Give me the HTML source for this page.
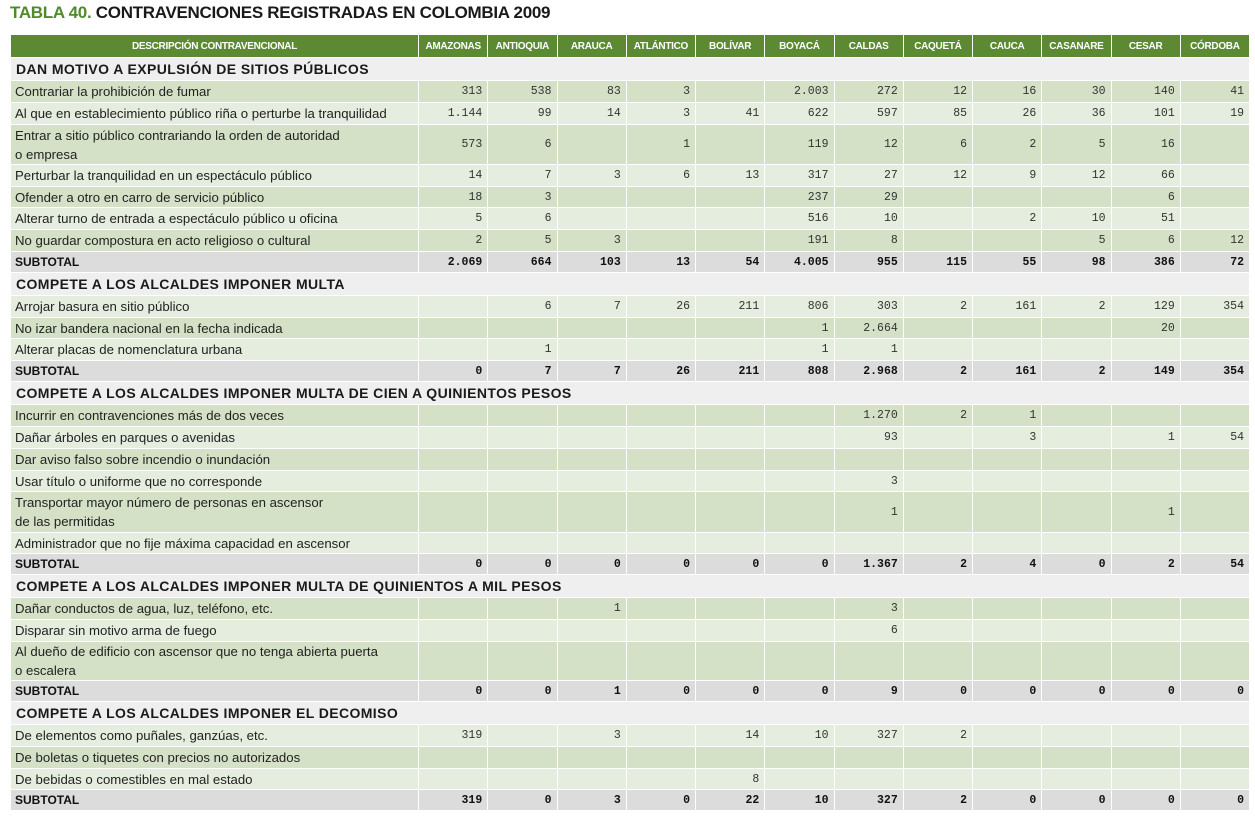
<!DOCTYPE html>
<html><head><meta charset="utf-8">
<style>
body{margin:0;background:#fff;width:1255px;height:817px;overflow:hidden;font-family:"Liberation Sans",sans-serif;}
#title{position:absolute;left:10px;top:3px;font-size:17px;font-weight:bold;color:#1a1a1a;letter-spacing:-0.3px;}
#title span{color:#4f8a2b;}
table{position:absolute;left:10px;top:34px;border-collapse:collapse;table-layout:fixed;width:1239px;}
td,th{border:1px solid #fff;padding:0 4px;overflow:hidden;white-space:nowrap;}
th{background:#5b8a33;color:#fff;font-family:"Liberation Sans Narrow","Liberation Sans",sans-serif;font-size:10px;font-weight:bold;height:22px;text-align:center;letter-spacing:-0.3px;}
td{font-size:13.2px;color:#222;}
td.n{text-align:right;font-family:"Liberation Mono",monospace;font-size:11.5px;padding-right:5px;color:#333;}
tr.sec td{background:#efefef;font-size:14px;font-weight:bold;letter-spacing:0.4px;padding-left:5px;color:#1a1a1a;}
tr.sub td{background:#dcdcdc;font-weight:bold;font-size:12px;color:#111;}
tr.sub td.n{font-size:11.5px;}
tr.d td{background:#d4e1c6;}
tr.l td{background:#e5edde;}
td.two{white-space:normal;line-height:19px;}
</style></head><body>
<div id="title"><span>TABLA 40.</span> CONTRAVENCIONES REGISTRADAS EN COLOMBIA 2009</div>
<table id="t">
<colgroup><col style="width:408px"></colgroup>
</table>
<script>
const columns=["AMAZONAS","ANTIOQUIA","ARAUCA","ATLÁNTICO","BOLÍVAR","BOYACÁ","CALDAS","CAQUETÁ","CAUCA","CASANARE","CESAR","CÓRDOBA"];
const sections=[
 {title:"DAN MOTIVO A EXPULSIÓN DE SITIOS PÚBLICOS",rows:[
  ["Contrariar la prohibición de fumar",["313","538","83","3","","2.003","272","12","16","30","140","41"],22],
  ["Al que en establecimiento público riña o perturbe la tranquilidad",["1.144","99","14","3","41","622","597","85","26","36","101","19"],22],
  ["Entrar a sitio público contrariando la orden de autoridad<br>o empresa",["573","6","","1","","119","12","6","2","5","16",""],40],
  ["Perturbar la tranquilidad en un espectáculo público",["14","7","3","6","13","317","27","12","9","12","66",""],22],
  ["Ofender a otro en carro de servicio público",["18","3","","","","237","29","","","","6",""],21],
  ["Alterar turno de entrada a espectáculo público u oficina",["5","6","","","","516","10","","2","10","51",""],22],
  ["No guardar compostura en acto religioso o cultural",["2","5","3","","","191","8","","","5","6","12"],22]],
  subtotal:["2.069","664","103","13","54","4.005","955","115","55","98","386","72"]},
 {title:"COMPETE A LOS ALCALDES IMPONER MULTA",rows:[
  ["Arrojar basura en sitio público",["","6","7","26","211","806","303","2","161","2","129","354"],22],
  ["No izar bandera nacional en la fecha indicada",["","","","","","1","2.664","","","","20",""],21],
  ["Alterar placas de nomenclatura urbana",["","1","","","","1","1","","","","",""],22]],
  subtotal:["0","7","7","26","211","808","2.968","2","161","2","149","354"]},
 {title:"COMPETE A LOS ALCALDES IMPONER MULTA DE CIEN A QUINIENTOS PESOS",rows:[
  ["Incurrir en contravenciones más de dos veces",["","","","","","","1.270","2","1","","",""],22],
  ["Dañar árboles en parques o avenidas",["","","","","","","93","","3","","1","54"],22],
  ["Dar aviso falso sobre incendio o inundación",["","","","","","","","","","","",""],22],
  ["Usar título o uniforme que no corresponde",["","","","","","","3","","","","",""],21],
  ["Transportar mayor número de personas en ascensor<br>de las permitidas",["","","","","","","1","","","","1",""],41],
  ["Administrador que no fije máxima capacidad en ascensor",["","","","","","","","","","","",""],21]],
  subtotal:["0","0","0","0","0","0","1.367","2","4","0","2","54"]},
 {title:"COMPETE A LOS ALCALDES IMPONER MULTA DE QUINIENTOS A MIL PESOS",rows:[
  ["Dañar conductos de agua, luz, teléfono, etc.",["","","1","","","","3","","","","",""],22],
  ["Disparar sin motivo arma de fuego",["","","","","","","6","","","","",""],22],
  ["Al dueño de edificio con ascensor que no tenga abierta puerta<br>o escalera",["","","","","","","","","","","",""],39]],
  subtotal:["0","0","1","0","0","0","9","0","0","0","0","0"]},
 {title:"COMPETE A LOS ALCALDES IMPONER EL DECOMISO",rows:[
  ["De elementos como puñales, ganzúas, etc.",["319","","3","","14","10","327","2","","","",""],22],
  ["De boletas o tiquetes con precios no autorizados",["","","","","","","","","","","",""],22],
  ["De bebidas o comestibles en mal estado",["","","","","8","","","","","","",""],21]],
  subtotal:["319","0","3","0","22","10","327","2","0","0","0","0"]}
];
const t=document.getElementById('t');
const cg=t.querySelector('colgroup');
columns.forEach(()=>{const c=document.createElement('col');c.style.width='69.25px';cg.appendChild(c);});
let hr=t.insertRow();


let h=document.createElement('th');h.textContent='DESCRIPCIÓN CONTRAVENCIONAL';


hr.appendChild(h);
columns.forEach(c=>{const th=document.createElement('th');th.textContent=c;


hr.appendChild(th);});
let k=0;
sections.forEach(s=>{
 let r=t.insertRow();r.className='sec';r.style.height='23px';
 
 
 let c=r.insertCell();c.colSpan=13;c.textContent=s.title;
 s.rows.forEach(row=>{
  let tr=t.insertRow();tr.className=(k++%2==0)?'d':'l';tr.style.height=row[2]+'px';
  
  
  let d=tr.insertCell();d.innerHTML=row[0];if(row[2]>30)d.className='two';
  row[1].forEach(v=>{let x=tr.insertCell();x.className='n';x.textContent=v;});
 });
 let sr=t.insertRow();sr.className='sub';sr.style.height='21px';
 
 
 let sc=sr.insertCell();sc.textContent='SUBTOTAL';
 s.subtotal.forEach(v=>{let x=sr.insertCell();x.className='n';x.textContent=v;});
});
</script>
</body></html>
